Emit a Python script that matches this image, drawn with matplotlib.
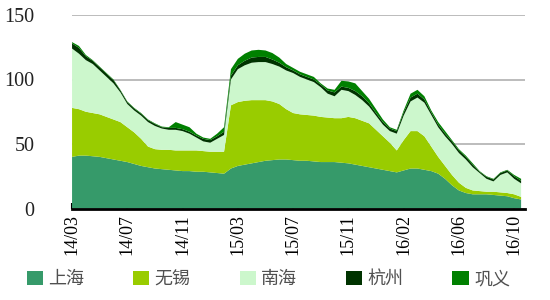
import matplotlib

matplotlib.use("Agg")
import matplotlib.pyplot as plt
import numpy as np

# weekly-ish samples, 14/03 .. 16/10 (8 samples per tick interval)
tick_labels = ["14/03", "14/07", "14/11", "15/03", "15/07", "15/11", "16/02", "16/06", "16/10"]
names = ["上海", "无锡", "南海", "杭州", "巩义"]
colors = ["#369a6a", "#99cc00", "#ccf7cc", "#003300", "#008000"]

shanghai = [40, 41, 41, 40.5, 40, 39, 38, 37, 36, 34.5,
            33, 32, 31, 30.5, 30, 29.5, 29, 29, 28.5, 28.5,
            28, 27.5, 27, 31, 33, 34, 35, 36, 37, 37.5,
            38, 38, 37.5, 37, 37, 36.5, 36, 36, 36, 35.5,
            35, 34, 33, 32, 31, 30, 29, 28, 29.5, 31,
            31, 30, 29, 27, 23, 18, 14, 12, 11, 11,
            11, 10.5, 10, 9.5, 8, 7]
wuxi = [38, 36, 34, 33.5, 33, 32, 31, 30, 27, 24.5,
        21, 16, 15, 15, 15.5, 15.5, 16, 16, 16.5, 16,
        16, 16.5, 17, 49, 49.5, 49.5, 49, 48, 47, 45.5,
        43, 39, 36.5, 36, 35.5, 35.5, 35, 34.5, 34, 34.5,
        36, 36, 35, 34, 30, 26, 22, 17, 23.5, 29,
        29, 26, 19, 13, 10, 8, 6, 4, 3, 2.5,
        2, 2.5, 2.5, 2.5, 3, 2]
nanhai = [46, 43, 40, 38, 34, 31, 28, 23, 18, 17,
          18, 19, 18, 16.5, 15.5, 16, 15, 13, 10, 7.5,
          7, 10, 13, 20, 25.5, 27.5, 29, 29.5, 29.5, 29,
          29, 30, 31, 29, 27.5, 26, 23, 18.5, 17, 22,
          20, 18, 16, 13, 11, 9, 9, 13, 19, 23,
          26, 26, 24.5, 23, 23, 24, 23, 22, 18, 14,
          10, 8, 13.5, 16, 12, 10.5]
hangzhou = [4, 4.5, 3, 2.5, 2.5, 2.5, 2.5, 1.5, 1.5, 1.5,
            1.5, 1.5, 1.5, 1, 1.5, 1.5, 1.5, 1.5, 1.5, 2,
            2, 2, 2.5, 3, 3, 3.5, 4, 4, 4, 3.5,
            3, 2.5, 2, 2, 2, 2, 2, 2.5, 3, 2.5,
            2.5, 3, 3, 2.5, 2, 2, 2, 2, 2.5, 3,
            3, 2.5, 2, 2, 2, 2, 2, 2, 2, 1,
            1.5, 1.5, 1.5, 1.5, 2, 2]
gongyi = [1, 1.5, 1, 0.5, 0.5, 0.5, 0.5, 0.5, 0.5, 0.5,
          0.5, 0.5, 0.5, 0.5, 0.5, 4.5, 3.5, 3.5, 1.5, 1,
          1, 2, 3.5, 5, 5, 5.5, 5.5, 5.5, 5, 5,
          4, 2.5, 2, 2, 2, 2, 1, 1.5, 2, 4.5,
          5, 6, 4, 3.5, 3, 2, 1, 1, 1.5, 3,
          3, 2.5, 1.5, 2, 2, 1, 1, 1, 1, 0.5,
          0.5, 0.5, 0.5, 0.5, 1, 1.5]

series = [shanghai, wuxi, nanhai, hangzhou, gongyi]
x = np.arange(len(shanghai))

fig = plt.figure(figsize=(5.5, 3), dpi=100)
ax = fig.add_axes([0.131, 0.305, 0.824, 0.645])

ax.stackplot(x, *series, colors=colors, labels=names, linewidth=0, zorder=2)

ax.set_xlim(0, 65.6)
ax.set_ylim(0, 150)
ax.set_yticks([0, 50, 100, 150])
ax.yaxis.grid(True, color="#b0b0b0", linewidth=1.2, zorder=0)
ax.set_axisbelow(True)

ax.set_xticks(np.arange(0, 65, 8))
ax.set_xticklabels(tick_labels, rotation=90, family="Liberation Serif", fontsize=13)
for lbl in ax.get_yticklabels():
    lbl.set_family("Liberation Serif")
    lbl.set_fontsize(14.5)
ax.tick_params(axis="y", length=0, pad=27, colors="#222222")
ax.tick_params(axis="x", direction="in", length=4, width=1.5, pad=4)

for side in ["top", "right", "left"]:
    ax.spines[side].set_visible(False)
ax.spines["bottom"].set_linewidth(2)
ax.spines["bottom"].set_zorder(3)

handles, labels = ax.get_legend_handles_labels()
leg = fig.legend(handles, labels, loc="lower center", bbox_to_anchor=(0.488, -0.015),
                 ncol=5, frameon=False, handlelength=0.9, handleheight=0.8,
                 handletextpad=0.3, columnspacing=2.7,
                 prop={"family": ["Noto Sans CJK SC", "DejaVu Sans"], "size": 13})
for t in leg.get_texts():
    t.set_color("#505050")

fig.savefig("out.png", dpi=100)
